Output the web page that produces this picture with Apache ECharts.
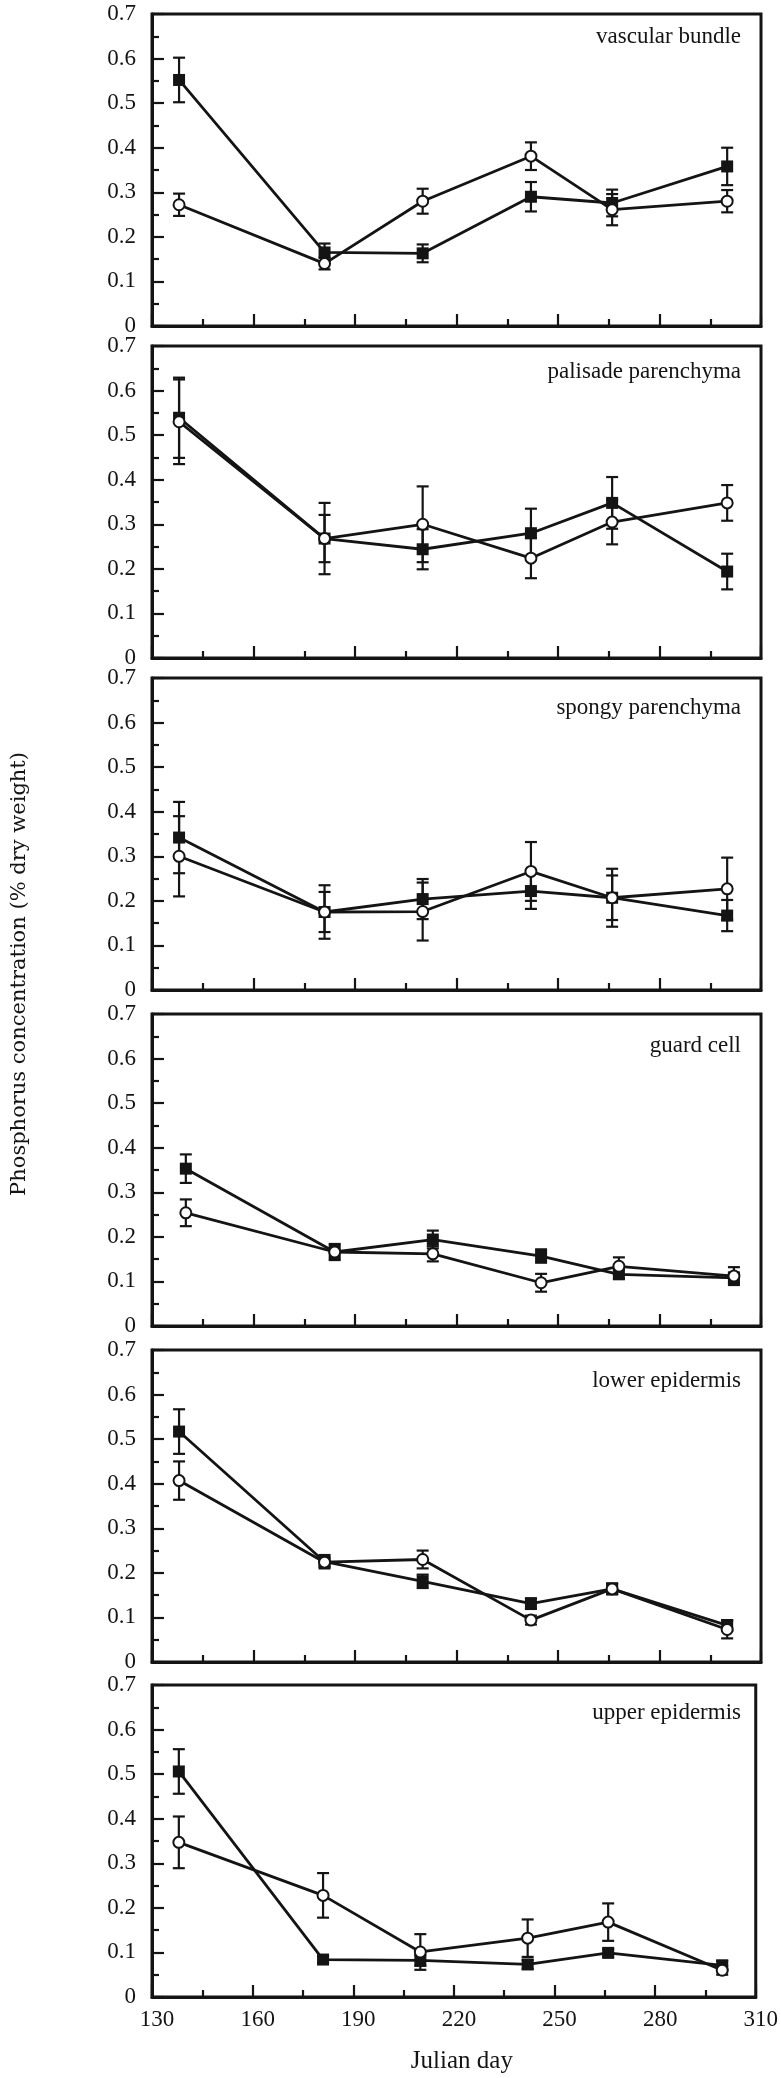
<!DOCTYPE html>
<html><head><meta charset="utf-8">
<script src="https://cdn.jsdelivr.net/npm/echarts@6/dist/echarts.min.js"></script>
<style>html,body{margin:0;padding:0;background:#fff}#c{width:781px;height:2078px}</style>
</head><body><div id="c"></div>
<script>
// ---------- data ----------
const days = [138, 181, 210, 242, 266, 300];
const guardDays = [140, 184, 213, 245, 268, 302];
const xTickLabels = ['130', '160', '190', '220', '250', '280', '310'];
const yTickLabels = ['0', '0.1', '0.2', '0.3', '0.4', '0.5', '0.6', '0.7'];
const panelNames = ['vascular bundle', 'palisade parenchyma', 'spongy parenchyma', 'guard cell', 'lower epidermis', 'upper epidermis'];

const vascularClosed    = [0.552, 0.165, 0.163, 0.290, 0.276, 0.358];
const vascularClosedErr = [0.050, 0.020, 0.020, 0.033, 0.030, 0.042];
const vascularOpen      = [0.272, 0.140, 0.280, 0.381, 0.261, 0.280];
const vascularOpenErr   = [0.025, 0.013, 0.028, 0.031, 0.035, 0.025];

const palisadeClosed    = [0.539, 0.268, 0.244, 0.280, 0.348, 0.194];
const palisadeClosedErr = [0.090, 0.080, 0.045, 0.055, 0.058, 0.040];
const palisadeOpen      = [0.530, 0.268, 0.300, 0.224, 0.305, 0.348];
const palisadeOpenErr   = [0.095, 0.053, 0.085, 0.045, 0.050, 0.040];

const spongyClosed      = [0.342, 0.175, 0.204, 0.222, 0.207, 0.167];
const spongyClosedErr   = [0.080, 0.045, 0.045, 0.040, 0.065, 0.035];
const spongyOpen        = [0.300, 0.175, 0.176, 0.266, 0.207, 0.227];
const spongyOpenErr     = [0.090, 0.060, 0.065, 0.066, 0.050, 0.070];

const guardClosed       = [0.353, 0.166, 0.194, 0.157, 0.116, 0.108];
const guardClosedErr    = [0.032, 0.018, 0.020, 0.015, 0.010, 0.012];
const guardOpen         = [0.254, 0.166, 0.162, 0.097, 0.134, 0.112];
const guardOpenErr      = [0.030, 0.015, 0.017, 0.020, 0.020, 0.020];

const lowerClosed       = [0.517, 0.225, 0.181, 0.131, 0.164, 0.082];
const lowerClosedErr    = [0.050, 0.015, 0.015, 0.012, 0.012, 0.012];
const lowerOpen         = [0.407, 0.224, 0.230, 0.094, 0.164, 0.073];
const lowerOpenErr      = [0.043, 0.010, 0.020, 0.010, 0.012, 0.020];

const upperClosed       = [0.506, 0.084, 0.082, 0.073, 0.099, 0.071];
const upperClosedErr    = [0.050, 0.008, 0.012, 0.010, 0.008, 0.010];
const upperOpen         = [0.347, 0.228, 0.101, 0.132, 0.168, 0.060];
const upperOpenErr      = [0.058, 0.050, 0.040, 0.042, 0.042, 0.010];

const yAxisTitle = 'Phosphorus concentration (% dry weight)';
const xAxisTitle = 'Julian day';

// ---------- layout ----------
const panels = [
  {x: days, c: vascularClosed, ce: vascularClosedErr, o: vascularOpen, oe: vascularOpenErr},
  {x: days, c: palisadeClosed, ce: palisadeClosedErr, o: palisadeOpen, oe: palisadeOpenErr},
  {x: days, c: spongyClosed, ce: spongyClosedErr, o: spongyOpen, oe: spongyOpenErr},
  {x: guardDays, c: guardClosed, ce: guardClosedErr, o: guardOpen, oe: guardOpenErr},
  {x: days, c: lowerClosed, ce: lowerClosedErr, o: lowerOpen, oe: lowerOpenErr},
  {x: days, c: upperClosed, ce: upperClosedErr, o: upperOpen, oe: upperOpenErr}
];
const tops = [14, 346, 678, 1014, 1350, 1685];
const labelOffsets = [11, 14, 18, 20, 19, 16];
const H = 312;
const FONT = '"Liberation Serif", "Times New Roman", serif';
const INK = '#141414';

function errRender(params, api) {
  const x = api.value(0), y = api.value(1), e = api.value(2);
  const t = api.coord([x, y + e]), b = api.coord([x, y - e]);
  const w = 6;
  const style = {stroke: INK, lineWidth: 2.2};
  return {type: 'group', children: [
    {type: 'line', shape: {x1: t[0], y1: t[1], x2: b[0], y2: b[1]}, style},
    {type: 'line', shape: {x1: t[0] - w, y1: t[1], x2: t[0] + w, y2: t[1]}, style},
    {type: 'line', shape: {x1: b[0] - w, y1: b[1], x2: b[0] + w, y2: b[1]}, style}
  ]};
}

const grid = [], xAxis = [], yAxis = [], series = [], title = [];
panels.forEach((p, i) => {
  grid.push({left: 152, right: 20, top: tops[i], height: H, show: true,
    borderColor: INK, borderWidth: 3, backgroundColor: 'transparent'});
  xAxis.push({type: 'value', gridIndex: i, min: 130, max: 310, interval: 30,
    axisLine: {show: true, onZero: false, lineStyle: {color: INK, width: 3}},
    axisTick: {show: true, inside: true, length: 12, lineStyle: {color: INK, width: 2.2}},
    minorTick: {show: true, splitNumber: 2, length: 7, lineStyle: {color: INK, width: 2.2}},
    splitLine: {show: false}, minorSplitLine: {show: false},
    axisLabel: {show: i === 5, margin: 11, padding: [0, 0, 0, 10], fontFamily: FONT, fontSize: 23, color: INK,
      formatter: v => xTickLabels[Math.round((v - 130) / 30)]},
    name: i === 5 ? xAxisTitle : '', nameLocation: 'middle', nameGap: 52,
    nameTextStyle: {fontFamily: FONT, fontSize: 25, color: INK, padding: [0, 0, 0, 16]}
  });
  yAxis.push({type: 'value', gridIndex: i, min: 0, max: 0.7, interval: 0.1,
    axisLine: {show: true, onZero: false, lineStyle: {color: INK, width: 3}},
    axisTick: {show: true, inside: true, length: 12, lineStyle: {color: INK, width: 2.2}},
    minorTick: {show: true, splitNumber: 2, length: 7, lineStyle: {color: INK, width: 2.2}},
    splitLine: {show: false}, minorSplitLine: {show: false},
    axisLabel: {margin: 16, fontFamily: FONT, fontSize: 23, color: INK,
      formatter: v => yTickLabels[Math.round(v * 10)]}
  });
  title.push({text: panelNames[i], right: 40, top: tops[i] + labelOffsets[i], padding: 0,
    textStyle: {fontFamily: FONT, fontSize: 23, fontWeight: 'normal', color: INK}});
  const cErr = p.x.map((d, j) => [d, p.c[j], p.ce[j]]);
  const oErr = p.x.map((d, j) => [d, p.o[j], p.oe[j]]);
  series.push({type: 'custom', xAxisIndex: i, yAxisIndex: i, renderItem: errRender,
    data: cErr, encode: {x: 0, y: 1}, z: 1, silent: true});
  series.push({type: 'custom', xAxisIndex: i, yAxisIndex: i, renderItem: errRender,
    data: oErr, encode: {x: 0, y: 1}, z: 1, silent: true});
  series.push({type: 'line', name: 'closed', xAxisIndex: i, yAxisIndex: i,
    data: p.x.map((d, j) => [d, p.c[j]]), symbol: 'rect', symbolSize: 12,
    itemStyle: {color: INK}, lineStyle: {color: INK, width: 2.8}, z: 3});
  series.push({type: 'line', name: 'open', xAxisIndex: i, yAxisIndex: i,
    data: p.x.map((d, j) => [d, p.o[j]]), symbol: 'circle', symbolSize: 11,
    itemStyle: {color: '#fff', borderColor: INK, borderWidth: 2}, lineStyle: {color: INK, width: 2.8}, z: 4});
});

const chart = echarts.init(document.getElementById('c'), null, {renderer: 'canvas'});
chart.setOption({
  animation: false,
  backgroundColor: '#fff',
  title, grid, xAxis, yAxis, series,
  graphic: [{type: 'text', left: 9, top: 752, rotation: Math.PI / 2,
    style: {text: yAxisTitle, font: '21px "DejaVu Serif", serif', fill: INK}}]
});
</script></body></html>
